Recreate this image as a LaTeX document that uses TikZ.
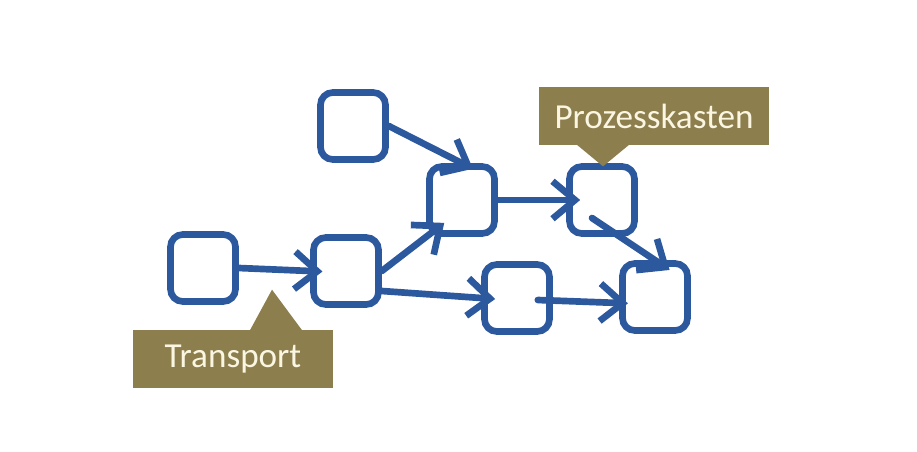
\documentclass[tikz,border=0pt]{standalone}
\usepackage{fontspec}
\setmainfont{Carlito}
\usetikzlibrary{arrows.meta}
\definecolor{stiftblau}{RGB}{44,88,158}
\definecolor{oliv}{RGB}{141,126,78}
\definecolor{creme}{RGB}{250,246,226}
\begin{document}
\begin{tikzpicture}[
  x=0.02cm, y=-0.02cm,
  kasten/.style={draw=stiftblau, line width=3.8pt, rounded corners=7pt, minimum width=1.3cm, minimum height=1.34cm},
  arrow/.style={-{Straight Barb[length=4.5mm, width=7.5mm]}, draw=stiftblau, line width=3.8pt, line cap=round},
  label/.style={fill=oliv, text=creme, font=\fontsize{20}{24}\selectfont, inner sep=0pt}
]
\useasboundingbox (0,0) rectangle (917,451);
\node[kasten] (a) at (353,126) {};
\node[kasten] (b) at (203,268) {};
\node[kasten] (c) at (346,271) {};
\node[kasten] (d) at (462,200) {};
\node[kasten] (e) at (517,298) {};
\node[kasten] (f) at (602,200) {};
\node[kasten] (g) at (655,297) {};
\draw[arrow, shorten >=-7pt] (b.east) -- (c.west);
\draw[arrow, shorten >=-7pt] (a.east) -- (d.north);
\draw[arrow, shorten >=-13pt] (c.east) -- (d.south west);
\draw[arrow, shorten >=-8pt] ([shift={(0,20)}]c.east) -- (e.west);
\draw[arrow, shorten >=-8pt] (d.east) -- (f.west);
\draw[arrow, shorten >=-5pt] ([shift={(-15,2)}]e.east) -- ([shift={(0,6)}]g.west);
\draw[arrow, shorten >=-10pt] ([shift={(-10,18)}]f.center) -- (g.north);
\node[label, minimum width=4cm, minimum height=1.16cm] (transport) at (233,359) {Transport};
\fill[oliv] ([shift={(17,0.5)}]transport.north) -- ([shift={(39,-40)}]transport.north) -- ([shift={(69,0.5)}]transport.north) -- cycle;
\node[label, minimum width=4.6cm, minimum height=1.16cm] (prozess) at (654,116) {Prozesskasten};
\fill[oliv] ([shift={(-77,-0.5)}]prozess.south) -- ([shift={(-51,21)}]prozess.south) -- ([shift={(-25,-0.5)}]prozess.south) -- cycle;
\end{tikzpicture}
\end{document}
